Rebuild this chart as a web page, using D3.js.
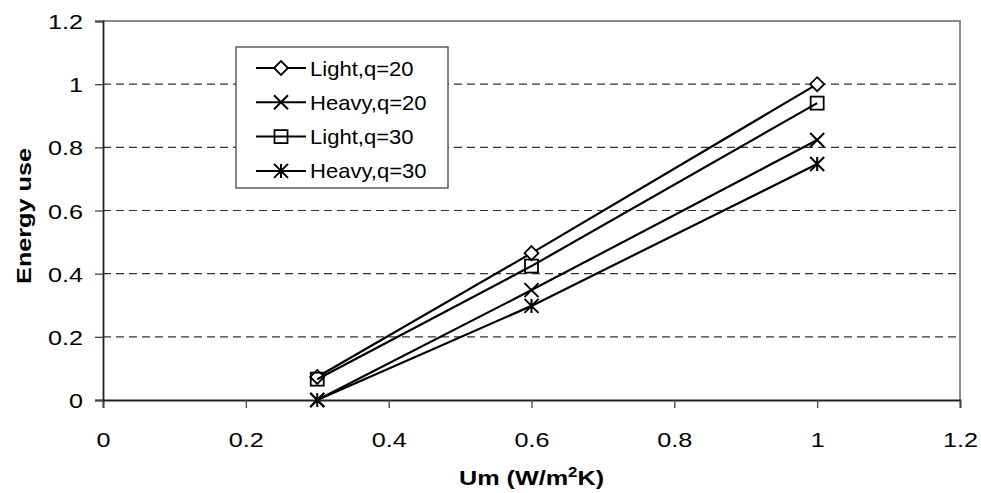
<!DOCTYPE html>
<html>
<head>
<meta charset="utf-8">
<script src="https://cdn.jsdelivr.net/npm/d3@7"></script>
<style>
  body { margin: 0; background: #fff; }
  svg { display: block; font-family: "Liberation Sans", Arial, sans-serif; }
</style>
</head>
<body>
<div id="chart"></div>
<script>
// U-value on the x axis, relative energy use per case
var um = [0.3, 0.6, 1.0];
var lightQ20 = [0.073, 0.465, 1.0];
var heavyQ20 = [0.0, 0.348, 0.823];
var lightQ30 = [0.066, 0.424, 0.94];
var heavyQ30 = [0.0, 0.298, 0.747];
var names = ["Light,q=20", "Heavy,q=20", "Light,q=30", "Heavy,q=30"];
var xTicks = [0, 0.2, 0.4, 0.6, 0.8, 1, 1.2];
var yTicks = [0, 0.2, 0.4, 0.6, 0.8, 1, 1.2];

var w = 981;
var h = 493;
var pl = 103, pr = 960, pt = 21, pb = 400;
var sx = 1.2; // text in this chart is drawn a bit wide

var series = [
  { name: names[0], values: lightQ20, marker: "diamond" },
  { name: names[1], values: heavyQ20, marker: "cross" },
  { name: names[2], values: lightQ30, marker: "square" },
  { name: names[3], values: heavyQ30, marker: "star" }
];

const x = d3.scaleLinear().domain([0, 1.2]).range([pl, pr]);
const y = d3.scaleLinear().domain([0, 1.2]).range([pb, pt]);

const svg = d3.select("#chart").append("svg").attr("width", w).attr("height", h);

// dashed grid
svg.append("g")
  .selectAll("line")
  .data(yTicks.filter((d) => d > 0 && d < 1.2))
  .enter()
  .append("line")
  .attr("x1", pl)
  .attr("x2", pr)
  .attr("y1", (d) => y(d))
  .attr("y2", (d) => y(d))
  .attr("stroke", "#333")
  .attr("stroke-width", 1.2)
  .attr("stroke-dasharray", "8,5");

// plot border (top and right)
svg.append("path")
  .attr("d", `M${pl},${pt}H${pr}V${pb}`)
  .attr("fill", "none")
  .attr("stroke", "#8c8c8c")
  .attr("stroke-width", 2);

const xAxis = d3.axisBottom(x).tickValues(xTicks).tickFormat(d3.format("~g")).tickSizeOuter(0).tickSize(8);
const yAxis = d3.axisLeft(y).tickValues(yTicks).tickFormat(d3.format("~g")).tickSizeOuter(0).tickSize(8);

const gx = svg.append("g").attr("transform", `translate(0,${pb})`).call(xAxis);
const gy = svg.append("g").attr("transform", `translate(${pl},0)`).call(yAxis);

[gx, gy].forEach((g) => {
  g.select(".domain").attr("stroke", "#222").attr("stroke-width", 1.8);
  g.selectAll(".tick line").attr("stroke", "#444").attr("stroke-width", 1.3);
  g.selectAll(".tick text").attr("font-size", 21).attr("fill", "#000")
    .style("font-family", '"Liberation Sans", Arial, sans-serif');
});
gx.selectAll(".tick text").attr("y", 47).attr("dy", null)
  .attr("transform", `scale(${sx},1)`);
gy.selectAll(".tick text").attr("x", -20 / sx).attr("dy", "0.36em")
  .attr("transform", `scale(${sx},1)`);

// axis titles
svg.append("text")
  .attr("transform", `translate(${(pl + pr) / 2},485) scale(${sx},1)`)
  .attr("text-anchor", "middle")
  .attr("font-size", 21)
  .attr("font-weight", "bold")
  .html('Um (W/m<tspan dy="-8" font-size="14">2</tspan><tspan dy="8">K)</tspan>');

svg.append("text")
  .attr("transform", `translate(31,216) rotate(-90) scale(${sx},1)`)
  .attr("text-anchor", "middle")
  .attr("font-size", 21)
  .attr("font-weight", "bold")
  .text("Energy use");

function marker(g, type, cx, cy) {
  if (type === "diamond") {
    const s = 7;
    g.append("path")
      .attr("d", `M${cx},${cy - s}L${cx + s},${cy}L${cx},${cy + s}L${cx - s},${cy}Z`)
      .attr("fill", "#fff").attr("stroke", "#000").attr("stroke-width", 1.8);
  } else if (type === "square") {
    const s = 6.5;
    g.append("rect")
      .attr("x", cx - s).attr("y", cy - s).attr("width", 2 * s).attr("height", 2 * s)
      .attr("fill", "none").attr("stroke", "#000").attr("stroke-width", 1.8);
  } else if (type === "cross") {
    const s = 7;
    g.append("path")
      .attr("d", `M${cx - s},${cy - s}L${cx + s},${cy + s}M${cx - s},${cy + s}L${cx + s},${cy - s}`)
      .attr("stroke", "#000").attr("stroke-width", 2);
  } else {
    const s = 7;
    g.append("path")
      .attr("d", `M${cx - s},${cy - s}L${cx + s},${cy + s}M${cx - s},${cy + s}L${cx + s},${cy - s}M${cx},${cy - s}V${cy + s}`)
      .attr("stroke", "#000").attr("stroke-width", 2);
  }
}

const line = d3.line().x((d) => x(d[0])).y((d) => y(d[1]));

series.forEach((s) => {
  const g = svg.append("g");
  const pts = um.map((u, i) => [u, s.values[i]]);
  g.append("path")
    .attr("d", line(pts))
    .attr("fill", "none")
    .attr("stroke", "#000")
    .attr("stroke-width", 2.2);
  pts.forEach((p) => marker(g, s.marker, x(p[0]), y(p[1])));
});

// legend
const lg = svg.append("g").attr("transform", "translate(236,47)");
lg.append("rect")
  .attr("width", 212)
  .attr("height", 141)
  .attr("fill", "#fff")
  .attr("stroke", "#444")
  .attr("stroke-width", 1.3);

series.forEach((s, i) => {
  const ly = 21 + i * 34.3;
  const g = lg.append("g");
  g.append("line").attr("x1", 20).attr("x2", 70).attr("y1", ly).attr("y2", ly)
    .attr("stroke", "#000").attr("stroke-width", 2);
  marker(g, s.marker, 45, ly);
  g.append("text")
    .attr("transform", `translate(74,${ly + 7.5}) scale(1.05,1)`)
    .attr("font-size", 21)
    .text(s.name);
});
</script>
</body>
</html>
